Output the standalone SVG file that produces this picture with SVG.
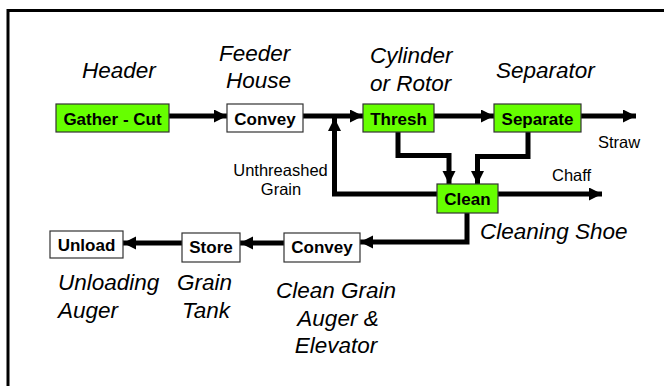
<svg xmlns="http://www.w3.org/2000/svg" width="664" height="386" viewBox="0 0 664 386">
<defs>
<marker id="ah" markerUnits="userSpaceOnUse" markerWidth="14" markerHeight="14" refX="13" refY="6.5" orient="auto">
<path d="M0,0 L13,6.5 L0,13 z" fill="#000"/>
</marker>
<style>
.box{stroke:#333;stroke-width:1.2}
.g{fill:#66ff00}
.w{fill:#fff}
.bl{font-family:"Liberation Sans",Arial,sans-serif;font-weight:bold;font-size:17px;text-anchor:middle;fill:#000}
.it{font-family:"Liberation Sans",Arial,sans-serif;font-style:italic;font-size:22.5px;fill:#000}
.sm{font-family:"Liberation Sans",Arial,sans-serif;font-size:16.5px;fill:#000}
.c{fill:none;stroke:#000;stroke-width:5;marker-end:url(#ah)}
</style>
</defs>
<rect width="664" height="386" fill="#fff"/>
<path d="M8,386 V10.5 H664" fill="none" stroke="#000" stroke-width="3"/>

<g id="connectors">
<path class="c" d="M169,116 H227"/>
<path class="c" d="M303,116 H363"/>
<path class="c" d="M434,116 H494"/>
<path class="c" d="M581,116 H636"/>
<path class="c" d="M398,132 V155.5 H449 V184"/>
<path class="c" d="M528,132 V156.5 H477.5 V184"/>
<path class="c" d="M437,194 H334.5 V118"/>
<path class="c" d="M498,194 H602"/>
<path class="c" d="M467,213 V242 H360"/>
<path class="c" d="M284,243 H240"/>
<path class="c" d="M182,243 H123"/>
</g>

<g id="gather-cut"><rect class="box g" x="56" y="104" width="113" height="28"/><text class="bl" x="112.5" y="125">Gather - Cut</text></g>
<g id="feeder-convey"><rect class="box w" x="227" y="104" width="76" height="28"/><text class="bl" x="265" y="125">Convey</text></g>
<g id="thresh"><rect class="box g" x="363" y="104" width="71" height="28"/><text class="bl" x="398.5" y="125">Thresh</text></g>
<g id="separate"><rect class="box g" x="494" y="104" width="87" height="28"/><text class="bl" x="537.5" y="125">Separate</text></g>
<g id="clean"><rect class="box g" x="437" y="184" width="61" height="29"/><text class="bl" x="467.5" y="205">Clean</text></g>
<g id="grain-convey"><rect class="box w" x="284" y="233" width="76" height="29"/><text class="bl" x="322" y="253">Convey</text></g>
<g id="store"><rect class="box w" x="182" y="233" width="58" height="29"/><text class="bl" x="211" y="253">Store</text></g>
<g id="unload"><rect class="box w" x="50" y="231" width="73" height="27"/><text class="bl" x="86.5" y="251">Unload</text></g>

<g id="labels">
<text class="it" x="82" y="78">Header</text>
<text class="it" x="219" y="61">Feeder</text>
<text class="it" x="226" y="88">House</text>
<text class="it" x="370" y="63">Cylinder</text>
<text class="it" x="370" y="91">or Rotor</text>
<text class="it" x="496" y="78">Separator</text>
<text class="it" x="480" y="239">Cleaning Shoe</text>
<text class="it" x="58" y="290">Unloading</text>
<text class="it" x="58" y="318">Auger</text>
<text class="it" x="177" y="290">Grain</text>
<text class="it" x="182" y="318">Tank</text>
<text class="it" x="336" y="298" text-anchor="middle">Clean Grain</text>
<text class="it" x="338" y="326" text-anchor="middle">Auger &amp;</text>
<text class="it" x="336" y="353" text-anchor="middle">Elevator</text>
<text class="sm" x="280.5" y="176" text-anchor="middle">Unthreashed</text>
<text class="sm" x="281" y="195" text-anchor="middle">Grain</text>
<text class="sm" x="598" y="148">Straw</text>
<text class="sm" x="552" y="181">Chaff</text>
</g>
</svg>
